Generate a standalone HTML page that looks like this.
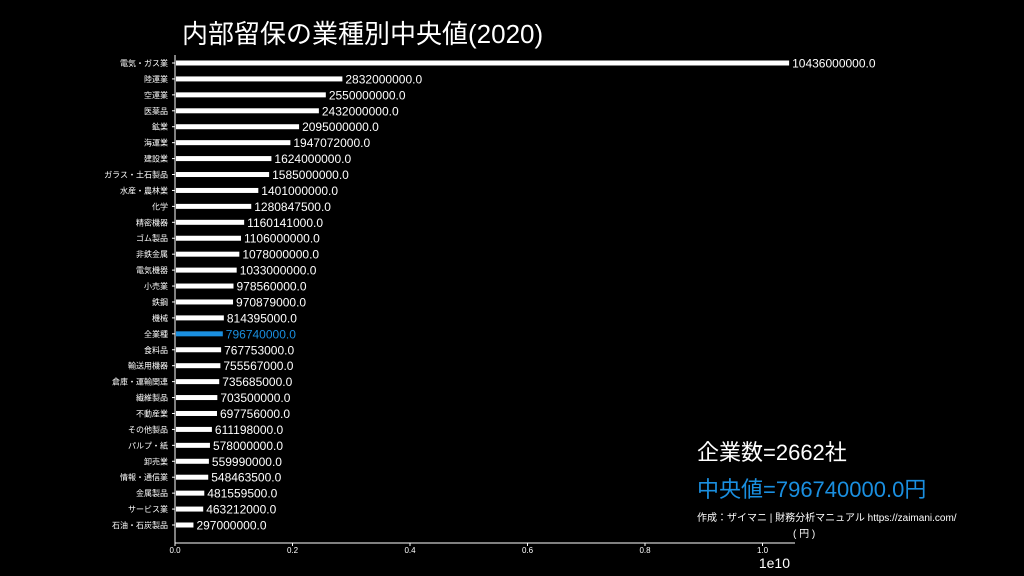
<!DOCTYPE html>
<html><head><meta charset="utf-8"><style>
html,body{margin:0;padding:0;background:#000;width:1024px;height:576px;overflow:hidden}
svg text{font-family:"Liberation Sans","Noto Sans CJK JP",sans-serif}
</style></head><body>
<svg id="chart" width="1024" height="576" viewBox="0 0 1024 576" xmlns="http://www.w3.org/2000/svg">
<rect width="1024" height="576" fill="#000"/>
<text x="182" y="43" fill="#fff" font-size="26">内部留保の業種別中央値(2020)</text>
<g id="plot"></g>
<text x="697" y="460" fill="#fff" font-size="22">企業数=2662社</text>
<text x="697" y="497" fill="#1a8fe0" font-size="22">中央値=796740000.0円</text>
<text x="697" y="521" fill="#fff" font-size="10">作成：ザイマニ | 財務分析マニュアル https://zaimani.com/</text>
<text x="793" y="537" fill="#fff" font-size="10">( 円 )</text>
<text x="790" y="568" fill="#fff" font-size="14" text-anchor="end">1e10</text>
</svg>
<script>
const categories=["電気・ガス業","陸運業","空運業","医薬品","鉱業","海運業","建設業","ガラス・土石製品","水産・農林業","化学","精密機器","ゴム製品","非鉄金属","電気機器","小売業","鉄鋼","機械","全業種","食料品","輸送用機器","倉庫・運輸関連","繊維製品","不動産業","その他製品","パルプ・紙","卸売業","情報・通信業","金属製品","サービス業","石油・石炭製品"];
const values=[10436000000,2832000000,2550000000,2432000000,2095000000,1947072000,1624000000,1585000000,1401000000,1280847500,1160141000,1106000000,1078000000,1033000000,978560000,970879000,814395000,796740000,767753000,755567000,735685000,703500000,697756000,611198000,578000000,559990000,548463500,481559500,463212000,297000000];
const highlight="全業種";
const xTicks=[0,0.2e10,0.4e10,0.6e10,0.8e10,1.0e10];
const xTickLabels=["0.0","0.2","0.4","0.6","0.8","1.0"];
const NS="http://www.w3.org/2000/svg";
const g=document.getElementById("plot");
const x0=175,xScale=587.5/1e10,y0=63,yStep=(525-63)/29,axisY=543;
const xs=v=>x0+v*xScale, ys=i=>y0+i*yStep;
function el(t,a){const e=document.createElementNS(NS,t);for(const k in a)e.setAttribute(k,a[k]);g.appendChild(e);return e;}
let l=el("line",{x1:x0,y1:55,x2:x0,y2:axisY,stroke:"#fff","stroke-width":1});


l=el("line",{x1:x0,y1:axisY,x2:795,y2:axisY,stroke:"#fff","stroke-width":1});


xTicks.forEach((v,i)=>{
  const t=el("line",{x1:xs(v),y1:axisY,x2:xs(v),y2:axisY+3,stroke:"#fff"});
  
  
  const tx=el("text",{x:xs(v),y:axisY+10,fill:"#fff","font-size":"8","text-anchor":"middle"});
  
  
  tx.textContent=xTickLabels[i];
});
categories.forEach((c,i)=>{
  const y=ys(i),col=c===highlight?"#1a8fe0":"#fff";
  const tk=el("line",{x1:x0-3,y1:y,x2:x0,y2:y,stroke:"#fff"});
  
  
  const lb=el("text",{x:x0-7,y:y+3,fill:"#fff","font-size":"8","text-anchor":"end"});
  
  
  lb.textContent=c;
  const b=el("rect",{x:x0+1,y:y-2.5,width:Math.max(0,xs(values[i])-x0),height:5,fill:col});
  
  
  const vt=el("text",{x:xs(values[i])+4,y:y+4.5,fill:col,"font-size":"12"});
  
  
  vt.textContent=values[i].toFixed(1);
});
</script>
</body></html>
